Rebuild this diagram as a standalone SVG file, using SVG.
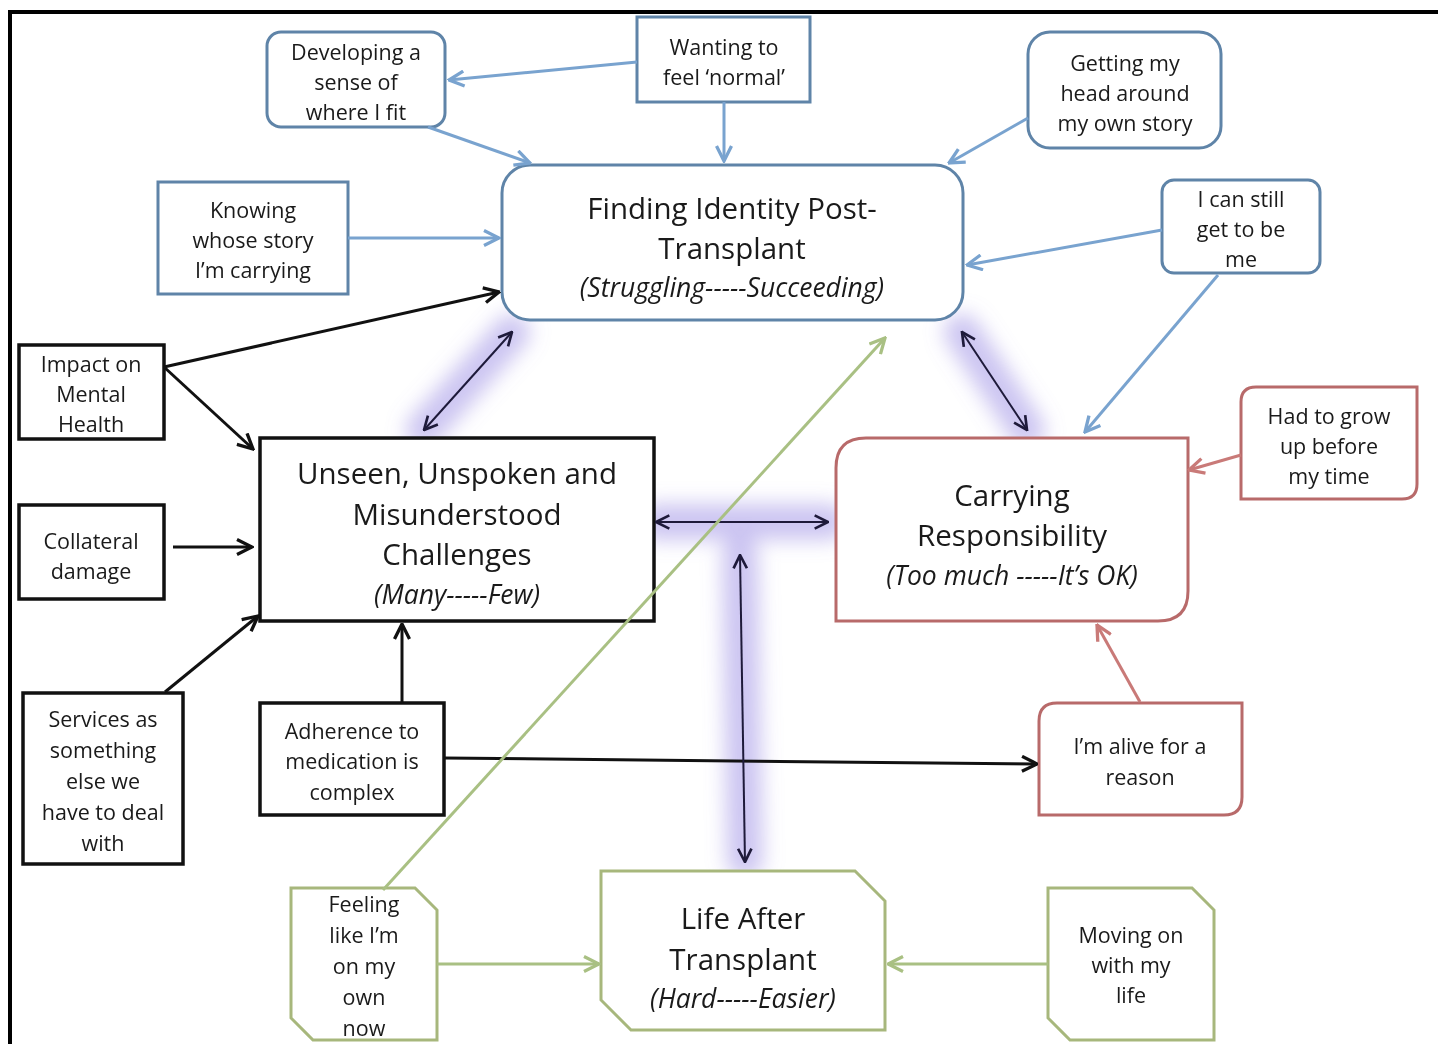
<svg xmlns="http://www.w3.org/2000/svg" width="1438" height="1044" viewBox="0 0 1438 1044">
<style>
text{font-family:"Open Sans","Liberation Sans",sans-serif;fill:#1a1a1a;text-anchor:middle}
.s{font-size:21.5px}
.b{font-size:29.5px}
.i{font-size:26.5px;font-style:italic}
.blue{fill:#fff;stroke:#5f84a8;stroke-width:3}
.blk{fill:#fff;stroke:#111;stroke-width:3.5}
.red{fill:#fff;stroke:#b86a6a;stroke-width:3}
.grn{fill:#fff;stroke:#a7b77c;stroke-width:3}
.cb{stroke:#79a3cf;stroke-width:3;fill:none}
.ck{stroke:#111;stroke-width:3;fill:none}
.cr{stroke:#c97a78;stroke-width:3;fill:none}
.cg{stroke:#a9c083;stroke-width:3;fill:none}
.cd{stroke:#1e1a3a;stroke-width:2;fill:none}
.glow{stroke:#8f7fe0;stroke-width:36;stroke-linecap:round;opacity:0.45;fill:none}
</style>
<defs>
<marker id="ab" viewBox="0 0 12 12" refX="11" refY="6" markerWidth="6" markerHeight="6" markerUnits="strokeWidth" orient="auto-start-reverse"><path d="M1,1 L11,6 L1,11" fill="none" stroke="#79a3cf" stroke-width="2.2"/></marker>
<marker id="ak" viewBox="0 0 12 12" refX="11" refY="6" markerWidth="6" markerHeight="6" markerUnits="strokeWidth" orient="auto-start-reverse"><path d="M1,1 L11,6 L1,11" fill="none" stroke="#111" stroke-width="2.2"/></marker>
<marker id="ar" viewBox="0 0 12 12" refX="11" refY="6" markerWidth="6" markerHeight="6" markerUnits="strokeWidth" orient="auto-start-reverse"><path d="M1,1 L11,6 L1,11" fill="none" stroke="#c97a78" stroke-width="2.2"/></marker>
<marker id="ag" viewBox="0 0 12 12" refX="11" refY="6" markerWidth="6" markerHeight="6" markerUnits="strokeWidth" orient="auto-start-reverse"><path d="M1,1 L11,6 L1,11" fill="none" stroke="#a9c083" stroke-width="2.2"/></marker>
<marker id="ad" viewBox="0 0 12 12" refX="11" refY="6" markerWidth="8" markerHeight="8" markerUnits="strokeWidth" orient="auto-start-reverse"><path d="M1,1 L11,6 L1,11" fill="none" stroke="#1e1a3a" stroke-width="2"/></marker>
<filter id="blur" x="-50%" y="-50%" width="200%" height="200%"><feGaussianBlur stdDeviation="10"/></filter>
</defs>
<rect width="1438" height="1044" fill="#fff"/>
<path d="M10,1060 L10,12 L1450,12" fill="none" stroke="#000" stroke-width="4"/>

<g id="glows" filter="url(#blur)">
<path class="glow" d="M424,430 L512,332"/>
<path class="glow" d="M962,332 L1027,430"/>
<path class="glow" d="M656,522 L828,522"/>
<path class="glow" d="M740,555 L745,860"/>
</g>

<g id="developing">
<rect class="blue" x="267" y="32" width="178" height="95" rx="14"/>
<text class="s" x="356" y="60">Developing a</text>
<text class="s" x="356" y="90">sense of</text>
<text class="s" x="356" y="120">where I fit</text>
</g>
<g id="wanting">
<rect class="blue" x="637" y="17" width="173" height="85"/>
<text class="s" x="724" y="55">Wanting to</text>
<text class="s" x="724" y="85">feel ‘normal’</text>
</g>
<g id="getting">
<rect class="blue" x="1028" y="32" width="193" height="116" rx="22"/>
<text class="s" x="1125" y="71">Getting my</text>
<text class="s" x="1125" y="101">head around</text>
<text class="s" x="1125" y="131">my own story</text>
</g>
<g id="knowing">
<rect class="blue" x="158" y="182" width="190" height="112"/>
<text class="s" x="253" y="218">Knowing</text>
<text class="s" x="253" y="248">whose story</text>
<text class="s" x="253" y="278">I’m carrying</text>
</g>
<g id="icanstill">
<rect class="blue" x="1162" y="180" width="158" height="93" rx="12"/>
<text class="s" x="1241" y="207">I can still</text>
<text class="s" x="1241" y="237">get to be</text>
<text class="s" x="1241" y="267">me</text>
</g>
<g id="finding">
<rect class="blue" x="502" y="165" width="461" height="155" rx="28"/>
<text class="b" x="732" y="219">Finding Identity Post-</text>
<text class="b" x="732" y="259">Transplant</text>
<text class="i" x="732" y="297">(Struggling-----Succeeding)</text>
</g>
<g id="impact">
<rect class="blk" x="19" y="345" width="145" height="94"/>
<text class="s" x="91" y="372">Impact on</text>
<text class="s" x="91" y="402">Mental</text>
<text class="s" x="91" y="432">Health</text>
</g>
<g id="collateral">
<rect class="blk" x="19" y="505" width="145" height="94"/>
<text class="s" x="91" y="549">Collateral</text>
<text class="s" x="91" y="579">damage</text>
</g>
<g id="services">
<rect class="blk" x="23" y="693" width="160" height="171"/>
<text class="s" x="103" y="727">Services as</text>
<text class="s" x="103" y="758">something</text>
<text class="s" x="103" y="789">else we</text>
<text class="s" x="103" y="820">have to deal</text>
<text class="s" x="103" y="851">with</text>
</g>
<g id="unseen">
<rect class="blk" x="260" y="438" width="394" height="183"/>
<text class="b" x="457" y="484">Unseen, Unspoken and</text>
<text class="b" x="457" y="525">Misunderstood</text>
<text class="b" x="457" y="565">Challenges</text>
<text class="i" x="457" y="604">(Many-----Few)</text>
</g>
<g id="adherence">
<rect class="blk" x="260" y="703" width="184" height="112"/>
<text class="s" x="352" y="739">Adherence to</text>
<text class="s" x="352" y="769">medication is</text>
<text class="s" x="352" y="800">complex</text>
</g>
<g id="carrying">
<path class="red" d="M866,438 L1188,438 L1188,591 Q1188,621 1158,621 L836,621 L836,468 Q836,438 866,438 Z"/>
<text class="b" x="1012" y="506">Carrying</text>
<text class="b" x="1012" y="546">Responsibility</text>
<text class="i" x="1012" y="585">(Too much -----It’s OK)</text>
</g>
<g id="hadtogrow">
<path class="red" d="M1256,387 L1417,387 L1417,484 Q1417,499 1402,499 L1241,499 L1241,402 Q1241,387 1256,387 Z"/>
<text class="s" x="1329" y="424">Had to grow</text>
<text class="s" x="1329" y="454">up before</text>
<text class="s" x="1329" y="484">my time</text>
</g>
<g id="alive">
<path class="red" d="M1057,703 L1242,703 L1242,797 Q1242,815 1224,815 L1039,815 L1039,721 Q1039,703 1057,703 Z"/>
<text class="s" x="1140" y="754">I’m alive for a</text>
<text class="s" x="1140" y="785">reason</text>
</g>
<g id="life">
<path class="grn" d="M601,871 L855,871 L885,901 L885,1030 L631,1030 L601,1000 Z"/>
<text class="b" x="743" y="929">Life After</text>
<text class="b" x="743" y="970">Transplant</text>
<text class="i" x="743" y="1008">(Hard-----Easier)</text>
</g>
<g id="feeling">
<path class="grn" d="M291,888 L415,888 L437,910 L437,1040 L313,1040 L291,1018 Z"/>
<text class="s" x="364" y="912">Feeling</text>
<text class="s" x="364" y="943">like I’m</text>
<text class="s" x="364" y="974">on my</text>
<text class="s" x="364" y="1005">own</text>
<text class="s" x="364" y="1036">now</text>
</g>
<g id="moving">
<path class="grn" d="M1048,888 L1192,888 L1214,910 L1214,1040 L1070,1040 L1048,1018 Z"/>
<text class="s" x="1131" y="943">Moving on</text>
<text class="s" x="1131" y="973">with my</text>
<text class="s" x="1131" y="1003">life</text>
</g>

<g id="connectors">
<path class="cb" d="M637,62 L449,80" marker-end="url(#ab)"/>
<path class="cb" d="M724,102 L724,161" marker-end="url(#ab)"/>
<path class="cb" d="M428,127 L530,163" marker-end="url(#ab)"/>
<path class="cb" d="M1028,118 L949,163" marker-end="url(#ab)"/>
<path class="cb" d="M348,238 L499,238" marker-end="url(#ab)"/>
<path class="cb" d="M1162,230 L967,265" marker-end="url(#ab)"/>
<path class="cb" d="M1218,275 L1085,432" marker-end="url(#ab)"/>
<path class="ck" d="M164,367 L499,292" marker-end="url(#ak)"/>
<path class="ck" d="M164,367 L253,449" marker-end="url(#ak)"/>
<path class="ck" d="M173,547 L252,547" marker-end="url(#ak)"/>
<path class="ck" d="M165,692 L258,616" marker-end="url(#ak)"/>
<path class="ck" d="M402,703 L402,624" marker-end="url(#ak)"/>
<path class="ck" d="M444,758 L1037,764" marker-end="url(#ak)"/>
<path class="cd" d="M424,430 L512,332" marker-start="url(#ad)" marker-end="url(#ad)"/>
<path class="cd" d="M962,332 L1027,430" marker-start="url(#ad)" marker-end="url(#ad)"/>
<path class="cd" d="M656,522 L828,522" marker-start="url(#ad)" marker-end="url(#ad)"/>
<path class="cd" d="M740,555 L745,862" marker-start="url(#ad)" marker-end="url(#ad)"/>
<path class="cr" d="M1241,455 L1189,470" marker-end="url(#ar)"/>
<path class="cr" d="M1140,702 L1097,625" marker-end="url(#ar)"/>
<path class="cg" d="M383,890 L885,338" marker-end="url(#ag)"/>
<path class="cg" d="M437,964 L599,964" marker-end="url(#ag)"/>
<path class="cg" d="M1048,964 L888,964" marker-end="url(#ag)"/>
</g>
</svg>
